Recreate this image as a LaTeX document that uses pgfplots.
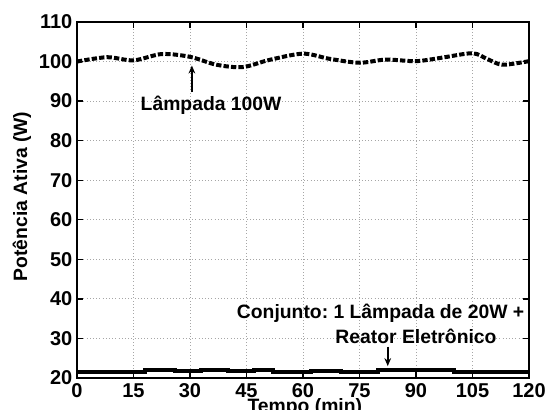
\documentclass[border=0pt]{standalone}
\usepackage{fontspec}
\setmainfont{Liberation Sans}
\usepackage{pgfplots}
\pgfplotsset{compat=1.18}
\usetikzlibrary{arrows.meta}
\frenchspacing

\begin{document}
\begin{tikzpicture}
\begin{axis}[
    scale only axis,
    width=339pt, height=267pt,
    xmin=0, xmax=120, ymin=20, ymax=110,
    xtick={0,15,...,120},
    ytick={20,30,...,110},
    tick align=inside,
    major tick length=4.5pt,
    every tick/.style={black, line width=1pt},
    axis line style={line width=1.5pt},
    grid=major,
    grid style={gray!70, dotted, line width=0.6pt},
    /pgf/number format/assume math mode=true,
    ticklabel style={font=\fontsize{15}{17}\selectfont\bfseries},
    xticklabel style={anchor=north, text height=11pt, text depth=0pt, yshift=0pt},
    xlabel={Tempo (min)},
    xlabel style={font=\fontsize{14.5}{16}\selectfont\bfseries, at={(axis description cs:0.504,0)}, anchor=north, yshift=-12pt},
    ylabel={Potência Ativa (W)},
    ylabel style={font=\fontsize{14.5}{16}\selectfont\bfseries, at={(axis description cs:-0.122,0.51)}, anchor=center},
]
% Lampada 100W
\addplot[black, line width=3pt, dash pattern=on 4pt off 1.6pt, smooth, tension=0.5] coordinates {
    (0,100.0) (8,101.1) (15,100.3) (22.5,101.9) (30,101.2) (37,99.2) (44,98.6)
    (51,100.4) (60,102.0) (67,100.7) (75,99.7) (82,100.5) (90,100.1) (97,101.0)
    (105,102.1) (109,100.6) (113,99.2) (120,100.1)
};
% Conjunto 20W + reator
\addplot[black, line width=3pt, const plot] coordinates {
    (0,21.6) (11,21.6) (18,21.9) (26,21.8) (33,22.0) (40,21.7) (47,22.0) (52,21.6)
    (62,21.7) (70,21.6) (80,21.9) (88,22.1) (92,21.9) (100,21.6) (112,21.6) (120,21.6)
};
\node[font=\fontsize{14.5}{16}\selectfont\bfseries] at (axis cs:35.6,89.0) {Lâmpada 100W};
\draw[-{Stealth[length=6pt,width=5pt]}, line width=1.2pt] (axis cs:30.5,92.2) -- (axis cs:30.5,99.0);
\node[font=\fontsize{14.5}{16}\selectfont\bfseries] at (axis cs:80.6,36.4) {Conjunto: 1 Lâmpada de 20W +};
\node[font=\fontsize{14.5}{16}\selectfont\bfseries] at (axis cs:90,30.4) {Reator Eletrônico};
\draw[-{Stealth[length=6pt,width=5pt]}, line width=1.2pt] (axis cs:82.5,27.9) -- (axis cs:82.5,23.0);
\end{axis}
\pgfresetboundingbox
\path (current axis.south west) ++(-57.75pt,-24pt) coordinate (bbsw);
\path (current axis.north east) ++(13.5pt,16.5pt) coordinate (bbne);
\useasboundingbox (bbsw) rectangle (bbne);
\end{tikzpicture}
\end{document}
